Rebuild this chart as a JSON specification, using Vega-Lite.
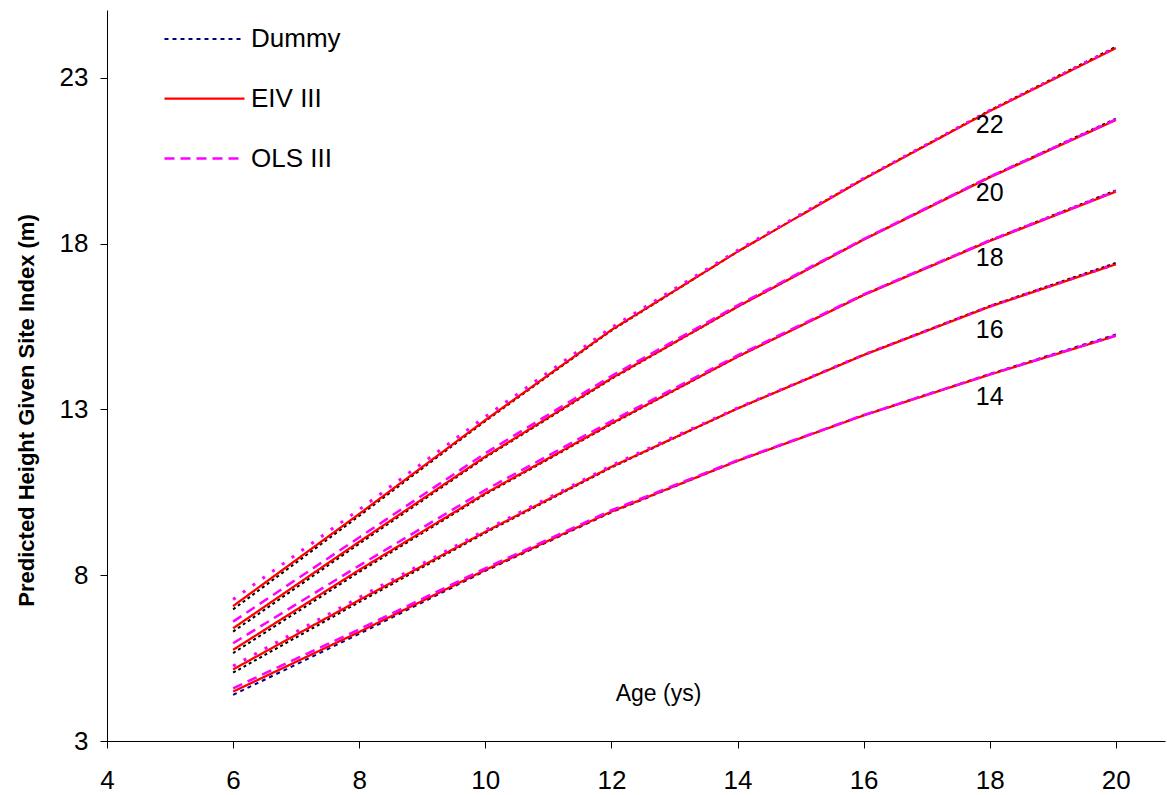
{
  "$schema": "https://vega.github.io/schema/vega-lite/v6.json",
  "width": 1058,
  "height": 731,
  "autosize": {"type": "none"},
  "padding": {"left": 107, "top": 10, "right": 2, "bottom": 54},
  "background": "white",
  "config": {
    "font": "Liberation Sans",
    "view": {"stroke": null},
    "axis": {"grid": false, "domainColor": "black", "tickColor": "black", "labelColor": "black", "titleColor": "black", "labelFont": "Liberation Sans", "titleFont": "Liberation Sans", "labelFlush": false}
  },
  "datasets": {
    "curves": [
      {"si":22,"age":6,"Dummy":6.97,"EIV III":7.07,"OLS III":7.27},
      {"si":22,"age":8,"Dummy":9.79,"EIV III":9.85,"OLS III":9.98},
      {"si":22,"age":10,"Dummy":12.65,"EIV III":12.68,"OLS III":12.78},
      {"si":22,"age":12,"Dummy":15.38,"EIV III":15.40,"OLS III":15.47},
      {"si":22,"age":14,"Dummy":17.76,"EIV III":17.76,"OLS III":17.80},
      {"si":22,"age":16,"Dummy":19.96,"EIV III":19.95,"OLS III":19.97},
      {"si":22,"age":18,"Dummy":22.02,"EIV III":22.00,"OLS III":22.02},
      {"si":22,"age":20,"Dummy":23.94,"EIV III":23.90,"OLS III":23.92},
      {"si":20,"age":6,"Dummy":6.30,"EIV III":6.40,"OLS III":6.60},
      {"si":20,"age":8,"Dummy":8.95,"EIV III":9.01,"OLS III":9.14},
      {"si":20,"age":10,"Dummy":11.55,"EIV III":11.58,"OLS III":11.68},
      {"si":20,"age":12,"Dummy":13.92,"EIV III":13.94,"OLS III":14.01},
      {"si":20,"age":14,"Dummy":16.10,"EIV III":16.10,"OLS III":16.14},
      {"si":20,"age":16,"Dummy":18.13,"EIV III":18.12,"OLS III":18.14},
      {"si":20,"age":18,"Dummy":20.02,"EIV III":20.00,"OLS III":20.02},
      {"si":20,"age":20,"Dummy":21.77,"EIV III":21.73,"OLS III":21.75},
      {"si":18,"age":6,"Dummy":5.65,"EIV III":5.75,"OLS III":5.95},
      {"si":18,"age":8,"Dummy":8.10,"EIV III":8.16,"OLS III":8.29},
      {"si":18,"age":10,"Dummy":10.44,"EIV III":10.47,"OLS III":10.57},
      {"si":18,"age":12,"Dummy":12.56,"EIV III":12.58,"OLS III":12.65},
      {"si":18,"age":14,"Dummy":14.59,"EIV III":14.59,"OLS III":14.63},
      {"si":18,"age":16,"Dummy":16.46,"EIV III":16.45,"OLS III":16.47},
      {"si":18,"age":18,"Dummy":18.10,"EIV III":18.08,"OLS III":18.10},
      {"si":18,"age":20,"Dummy":19.61,"EIV III":19.57,"OLS III":19.59},
      {"si":16,"age":6,"Dummy":5.06,"EIV III":5.16,"OLS III":5.26},
      {"si":16,"age":8,"Dummy":7.19,"EIV III":7.25,"OLS III":7.33},
      {"si":16,"age":10,"Dummy":9.28,"EIV III":9.31,"OLS III":9.36},
      {"si":16,"age":12,"Dummy":11.25,"EIV III":11.27,"OLS III":11.31},
      {"si":16,"age":14,"Dummy":13.03,"EIV III":13.03,"OLS III":13.05},
      {"si":16,"age":16,"Dummy":14.65,"EIV III":14.64,"OLS III":14.65},
      {"si":16,"age":18,"Dummy":16.12,"EIV III":16.10,"OLS III":16.11},
      {"si":16,"age":20,"Dummy":17.42,"EIV III":17.38,"OLS III":17.39},
      {"si":14,"age":6,"Dummy":4.39,"EIV III":4.49,"OLS III":4.59},
      {"si":14,"age":8,"Dummy":6.23,"EIV III":6.29,"OLS III":6.37},
      {"si":14,"age":10,"Dummy":8.13,"EIV III":8.16,"OLS III":8.21},
      {"si":14,"age":12,"Dummy":9.90,"EIV III":9.92,"OLS III":9.96},
      {"si":14,"age":14,"Dummy":11.45,"EIV III":11.45,"OLS III":11.47},
      {"si":14,"age":16,"Dummy":12.83,"EIV III":12.82,"OLS III":12.83},
      {"si":14,"age":18,"Dummy":14.07,"EIV III":14.05,"OLS III":14.06},
      {"si":14,"age":20,"Dummy":15.26,"EIV III":15.22,"OLS III":15.23}
    ],
    "labels": [
      {"age":18,"h":21.58,"t":"22"},
      {"age":18,"h":19.53,"t":"20"},
      {"age":18,"h":17.57,"t":"18"},
      {"age":18,"h":15.40,"t":"16"},
      {"age":18,"h":13.38,"t":"14"}
    ]
  },
  "data": {"name": "curves"},
  "transform": [{"fold": ["Dummy", "EIV III", "OLS III"], "as": ["model", "h"]}],
  "encoding": {
    "x": {"field": "age", "type": "quantitative",
      "scale": {"domain": [4, 20.78], "nice": false, "zero": false},
      "axis": {"values": [4,6,8,10,12,14,16,18,20], "labelFlush": false, "title": "Age (ys)", "titleFontSize": 23, "titleFontWeight": "normal", "titleX": 551, "titleY": -48, "titleBaseline": "middle", "titleAnchor": null, "titleAlign": "center", "labelFontSize": 26, "labelPadding": 19, "tickSize": 7, "domainWidth": 1, "tickWidth": 1}},
    "y": {"field": "h", "type": "quantitative",
      "scale": {"domain": [3, 25.05], "nice": false, "zero": false},
      "axis": {"values": [3,8,13,18,23], "labelFlush": false, "title": "Predicted Height Given Site Index (m)", "titleFontSize": 22, "titleFontWeight": "bold", "titleX": -81, "titleY": 400, "titleAngle": -90, "titleAlign": "center", "titleBaseline": "middle", "titleAnchor": null, "labelFontSize": 26, "labelPadding": 12, "tickSize": 7, "domainWidth": 1, "tickWidth": 1}}
  },
  "layer": [
    {
      "transform": [{"filter": "datum.model == 'Dummy' && datum.si != 14"}],
      "mark": {"type": "line", "color": "black", "strokeDash": [3, 3], "strokeWidth": 2},
      "encoding": {"detail": {"field": "si"}}
    },
    {
      "transform": [{"filter": "datum.model == 'Dummy' && datum.si == 14"}],
      "mark": {"type": "line"},
      "encoding": {
        "detail": {"field": "si"},
        "color": {"field": "model", "type": "nominal", "scale": {"domain": ["Dummy","EIV III","OLS III"], "range": ["#000080","#ff0000","#ff00ff"]}, "legend": {"title": null, "orient": "none", "legendX": 56, "legendY": -12, "symbolType": "stroke", "symbolSize": 6400, "labelFontSize": 26, "labelColor": "black", "labelOffset": 5, "rowPadding": 5, "labelFont": "Liberation Sans"}},
        "strokeDash": {"field": "model", "type": "nominal", "scale": {"domain": ["Dummy","EIV III","OLS III"], "range": [[4,4],[1,0],[10,6]]}},
        "strokeWidth": {"field": "model", "type": "nominal", "scale": {"domain": ["Dummy","EIV III","OLS III"], "range": [2,2.5,3.5]}}
      }
    },
    {
      "transform": [{"filter": "datum.model == 'EIV III'"}],
      "mark": {"type": "line"},
      "encoding": {
        "detail": {"field": "si"},
        "color": {"field": "model", "type": "nominal"},
        "strokeDash": {"field": "model", "type": "nominal"},
        "strokeWidth": {"field": "model", "type": "nominal"}
      }
    },
    {
      "transform": [{"filter": "datum.model == 'OLS III' && (datum.si == 20 || datum.si == 18 || datum.si == 14)"}],
      "mark": {"type": "line"},
      "encoding": {
        "detail": {"field": "si"},
        "color": {"field": "model", "type": "nominal"},
        "strokeDash": {"field": "model", "type": "nominal"},
        "strokeWidth": {"field": "model", "type": "nominal"}
      }
    },
    {
      "transform": [{"filter": "datum.model == 'OLS III' && (datum.si == 22 || datum.si == 16)"}],
      "mark": {"type": "line", "color": "#ff00ff", "strokeDash": [3, 9], "strokeWidth": 3},
      "encoding": {"detail": {"field": "si"}}
    },
    {
      "data": {"name": "labels"},
      "transform": [],
      "mark": {"type": "text", "fontSize": 25, "color": "black", "align": "center", "baseline": "middle", "font": "Liberation Sans"},
      "encoding": {
        "x": {"field": "age", "type": "quantitative"},
        "y": {"field": "h", "type": "quantitative"},
        "text": {"field": "t"}
      }
    }
  ]
}
